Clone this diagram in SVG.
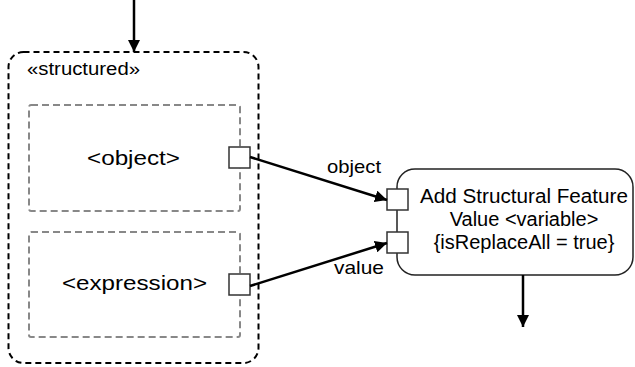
<svg xmlns="http://www.w3.org/2000/svg" width="635" height="367" viewBox="0 0 635 367">
<defs>
<marker id="ah" viewBox="0 0 12 12" refX="12" refY="6" markerWidth="12" markerHeight="12" markerUnits="userSpaceOnUse" orient="auto">
<path d="M0,0 L12,6 L0,12 Z" fill="#000"/>
</marker>
<style>
text{font-family:"Liberation Sans",Arial,sans-serif;fill:#000}
.outer{fill:none;stroke:#000;stroke-width:2;stroke-dasharray:6 4}
.inner{fill:none;stroke:#888;stroke-width:2;stroke-dasharray:7 4}
.port{fill:#fff;stroke:#333;stroke-width:1.5}
.node{fill:#fff;stroke:#222;stroke-width:1.5}
.edge{fill:none;stroke:#000;stroke-width:2.5;marker-end:url(#ah)}
</style>
</defs>
<g id="region">
<rect class="outer" x="8.5" y="52" width="250" height="311" rx="15"/>
<text x="27" y="75" font-size="18" textLength="113" lengthAdjust="spacingAndGlyphs">«structured»</text>
</g>
<g id="objectNode">
<rect class="inner" x="29" y="105" width="211" height="106" rx="2"/>
<text x="87" y="165" font-size="21" textLength="93" lengthAdjust="spacingAndGlyphs">&lt;object&gt;</text>
<rect class="port" x="229" y="147" width="21" height="21"/>
</g>
<g id="expressionNode">
<rect class="inner" x="29" y="232" width="211" height="105" rx="2"/>
<text x="62" y="290" font-size="21" textLength="145" lengthAdjust="spacingAndGlyphs">&lt;expression&gt;</text>
<rect class="port" x="229" y="274" width="21" height="21"/>
</g>
<g id="actionNode">
<rect class="node" x="397" y="169" width="236" height="106" rx="18"/>
<rect class="port" x="387" y="189" width="21" height="21"/>
<rect class="port" x="387" y="232" width="21" height="21"/>
<text x="524" y="203" font-size="20" text-anchor="middle" textLength="208" lengthAdjust="spacingAndGlyphs">Add Structural Feature</text>
<text x="524" y="226" font-size="20" text-anchor="middle">Value &lt;variable&gt;</text>
<text x="524" y="249" font-size="20" text-anchor="middle">{isReplaceAll = true}</text>
</g>
<g id="connectors">
<line class="edge" x1="134" y1="0" x2="134" y2="52"/>
<line class="edge" x1="250" y1="157" x2="387" y2="200"/>
<line class="edge" x1="250" y1="286" x2="387" y2="243"/>
<line class="edge" x1="523" y1="275" x2="523" y2="327"/>
<text x="327" y="173" font-size="19" textLength="54" lengthAdjust="spacingAndGlyphs">object</text>
<text x="334" y="274" font-size="19" textLength="50" lengthAdjust="spacingAndGlyphs">value</text>
</g>
</svg>
